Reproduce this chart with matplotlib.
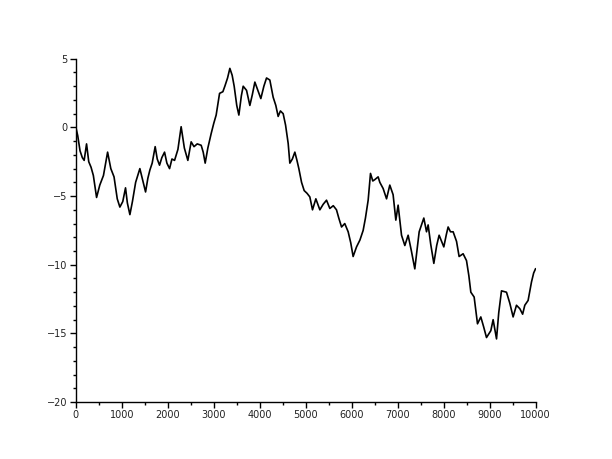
import matplotlib
matplotlib.use("Agg")
import matplotlib.pyplot as plt
from matplotlib.ticker import MultipleLocator

# walk (step index, value)
steps = [0, 40, 90, 140, 180, 232, 280, 330, 380, 450, 520, 600, 690, 760, 830,
         900, 957, 1020, 1080, 1120, 1175, 1230, 1300, 1392, 1450, 1516, 1566,
         1610, 1660, 1725, 1770, 1820, 1870, 1929, 1980, 2038, 2090, 2147, 2220,
         2290, 2360, 2436, 2508, 2570, 2640, 2726, 2770, 2813, 2871, 2944, 3000,
         3052, 3126, 3198, 3241, 3300, 3350, 3400, 3444, 3500, 3546, 3600, 3640,
         3713, 3785, 3840, 3894, 3960, 4024, 4090, 4148, 4220, 4292, 4350, 4401,
         4450, 4510, 4562, 4619, 4655, 4710, 4764, 4810, 4851, 4910, 4967, 5030,
         5090, 5148, 5221, 5308, 5380, 5453, 5525, 5600, 5670, 5720, 5780, 5850,
         5924, 5980, 6032, 6106, 6180, 6250, 6300, 6359, 6410, 6460, 6504, 6576,
         6613, 6685, 6759, 6830, 6902, 6961, 7011, 7085, 7157, 7229, 7300, 7374,
         7420, 7469, 7570, 7629, 7664, 7720, 7788, 7850, 7903, 8005, 8060, 8099,
         8150, 8208, 8282, 8338, 8425, 8499, 8550, 8593, 8665, 8738, 8810, 8870,
         8934, 9028, 9078, 9152, 9200, 9260, 9369, 9441, 9513, 9586, 9659, 9720,
         9767, 9839, 9913, 9960, 10000]
walk = [0, -0.6, -1.7, -2.2, -2.4, -1.2, -2.5, -2.9, -3.5, -5.1, -4.2, -3.5, -1.8,
        -3.0, -3.6, -5.2, -5.8, -5.4, -4.4, -5.5, -6.35, -5.4, -4.0, -3.0, -3.8,
        -4.7, -3.7, -3.1, -2.6, -1.4, -2.3, -2.75, -2.2, -1.8, -2.6, -3.0, -2.3,
        -2.4, -1.6, 0.05, -1.5, -2.4, -1.05, -1.4, -1.2, -1.3, -1.8, -2.6, -1.5,
        -0.44, 0.3, 0.9, 2.48, 2.6, 3.0, 3.6, 4.3, 3.8, 3.0, 1.6, 0.9, 2.3, 3.0,
        2.7, 1.6, 2.4, 3.3, 2.7, 2.1, 3.0, 3.6, 3.45, 2.2, 1.6, 0.8, 1.2, 1.0,
        0.17, -1.17, -2.6, -2.3, -1.8, -2.4, -3.0, -4.0, -4.6, -4.8, -5.06, -6.0,
        -5.2, -6.0, -5.6, -5.3, -5.9, -5.7, -6.0, -6.6, -7.25, -7.0, -7.6, -8.4,
        -9.4, -8.7, -8.2, -7.5, -6.6, -5.3, -3.35, -3.9, -3.8, -3.6, -4.0, -4.45,
        -5.2, -4.2, -4.9, -6.75, -5.66, -7.85, -8.6, -7.85, -9.0, -10.3, -9.0,
        -7.6, -6.6, -7.6, -7.1, -8.5, -9.9, -8.6, -7.85, -8.7, -7.8, -7.25, -7.6,
        -7.6, -8.3, -9.4, -9.2, -9.7, -10.8, -12.0, -12.35, -14.3, -13.8, -14.5,
        -15.3, -14.8, -14.0, -15.4, -13.5, -11.9, -12.0, -12.8, -13.8, -12.95,
        -13.2, -13.6, -12.95, -12.6, -11.25, -10.6, -10.3]

fig = plt.figure(figsize=(6.12, 4.59), dpi=100)
ax = fig.add_axes([0.124, 0.124, 0.751, 0.748])

ax.plot(steps, walk, color="black", linewidth=1.2)

ax.set_xlim(0, 10000)
ax.set_ylim(-20, 5)
ax.xaxis.set_major_locator(MultipleLocator(1000))
ax.xaxis.set_minor_locator(MultipleLocator(500))
ax.yaxis.set_major_locator(MultipleLocator(5))
ax.yaxis.set_minor_locator(MultipleLocator(1))

for s in ("top", "right"):
    ax.spines[s].set_visible(False)
for s in ("left", "bottom"):
    ax.spines[s].set_linewidth(1.0)

ax.tick_params(which="major", length=4, width=1, labelsize=7, pad=2,
               colors="black", labelcolor="#222222")
ax.tick_params(which="minor", length=2, width=1)

fig.savefig("out.png", dpi=100)
